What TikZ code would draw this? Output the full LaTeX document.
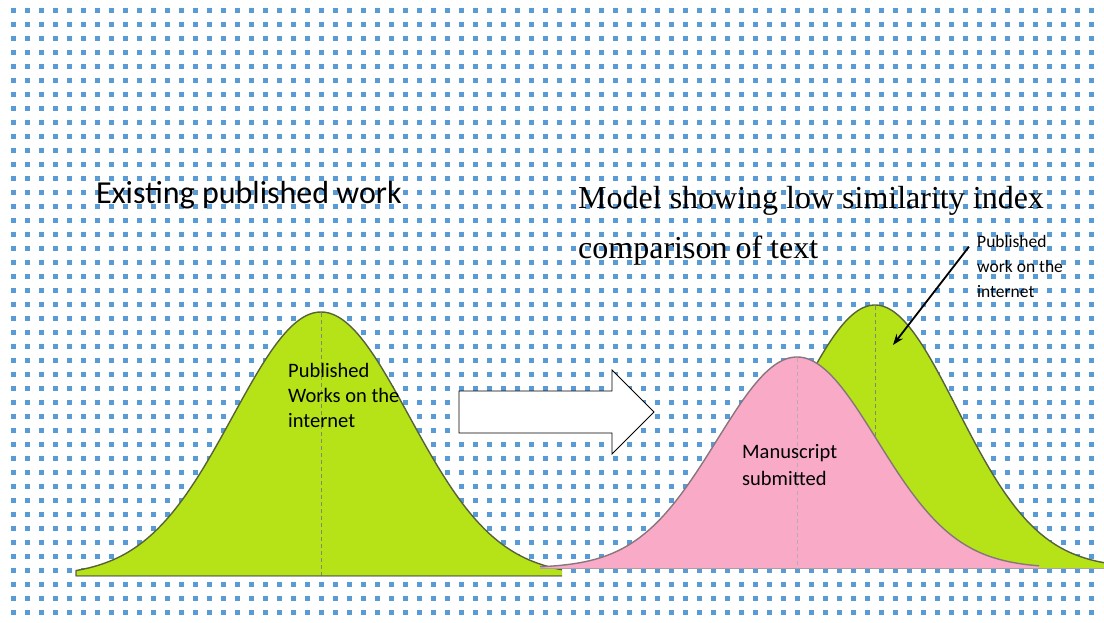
\documentclass[tikz,border=0pt]{standalone}
\usepackage{fontspec}
\setmainfont{Liberation Serif}
\newfontfamily\calibri{Carlito}
\usetikzlibrary{calc,arrows.meta}

\definecolor{dotblue}{RGB}{91,155,213}
\definecolor{bellgreen}{RGB}{181,227,24}
\definecolor{bellpink}{RGB}{249,170,198}
\definecolor{greenline}{RGB}{88,98,58}
\definecolor{pinkline}{RGB}{135,118,126}

\begin{document}
\begin{tikzpicture}[x=1pt,y=-1pt,
  dotsq/.style={fill=dotblue},
  bell/.style={line width=1.4pt, line join=round},
  midline/.style={dash pattern=on 4pt off 3pt, line width=1pt},
  txt/.style={font=\calibri\fontsize{20.5}{25}\selectfont, align=left, inner sep=0pt, anchor=base west},
  smalltxt/.style={txt, font=\calibri\fontsize{17.5}{25}\selectfont},
  pointer/.style={-{Stealth[length=11pt,width=8pt]}, line width=1.8pt}
]
  \useasboundingbox (0,0) rectangle (1104,622);

  % dotted background
  \foreach \i in {0,...,77}
    \foreach \j in {0,...,43}
      \fill[dotsq] (10.9+14*\i,7.9+14*\j) rectangle ++(4.8,4.8);

  % existing published work
  \fill[bellgreen] (76,576) -- plot[domain=76:562, samples=120, smooth]
    (\x,{576-264*exp(-0.5*((\x-321)/88)^2)}) -- (562,576) -- cycle;
  \draw[midline, greenline!75] (321,313) -- (321,576);
  \draw[bell, greenline] (562,576) -- (76,576) -- plot[domain=76:562, samples=120, smooth]
    (\x,{576-264*exp(-0.5*((\x-321)/88)^2)});
  \draw[line width=1pt, gray!70] (76,576) -- (562,576);

  % published work, right
  \fill[bellgreen] (640,568) -- plot[domain=640:1104, samples=120, smooth]
    (\x,{568-263*exp(-0.5*((\x-875)/82)^2)}) -- (1104,568) -- cycle;
  \draw[midline, greenline!75] (875,306) -- (875,568);
  \draw[bell, greenline] plot[domain=640:1104, samples=120, smooth]
    (\x,{568-263*exp(-0.5*((\x-875)/82)^2)});
  \draw[line width=1pt, gray!70] (640,568) -- (1104,568);

  % manuscript
  \fill[bellpink] (540,568) -- plot[domain=540:1039, samples=120, smooth]
    (\x,{568-211*exp(-0.5*((\x-797)/80)^2)}) -- (1039,568) -- cycle;
  \draw[midline, pinkline!60] (797,358) -- (797,568);
  \draw[bell, pinkline] plot[domain=540:1039, samples=120, smooth]
    (\x,{568-211*exp(-0.5*((\x-797)/80)^2)});
  \draw[line width=1pt, pinkline!70] (540,568) -- (1039,568);

  % block arrow
  \draw[fill=white, line width=0.9pt, line join=miter]
    (459,391) -- (612,391) -- (612,370) -- (654,412) -- (612,454) -- (612,433) -- (459,433) -- cycle;

  \node[txt, font=\calibri\fontsize{32}{36}\selectfont] (lefttitle) at (96,203) {Existing published work};
  \node[txt, font=\fontsize{32}{50}\selectfont] (righttitle) at (578,258) {Model showing low similarity index\\comparison of text};

  \node[txt] (leftlab) at (288,427) {Published\\Works on the\\internet};
  \node[txt, font=\calibri\fontsize{20.5}{27}\selectfont] (mslab) at (742,485) {Manuscript\\submitted};
  \node[smalltxt] (publab) at (977,297) {Published\\work on the\\ internet};

  \coordinate (ptrtip) at (893,345);
  \draw[pointer] ($(publab.north west)+(-8,12)$) -- (ptrtip);
\end{tikzpicture}
\end{document}
